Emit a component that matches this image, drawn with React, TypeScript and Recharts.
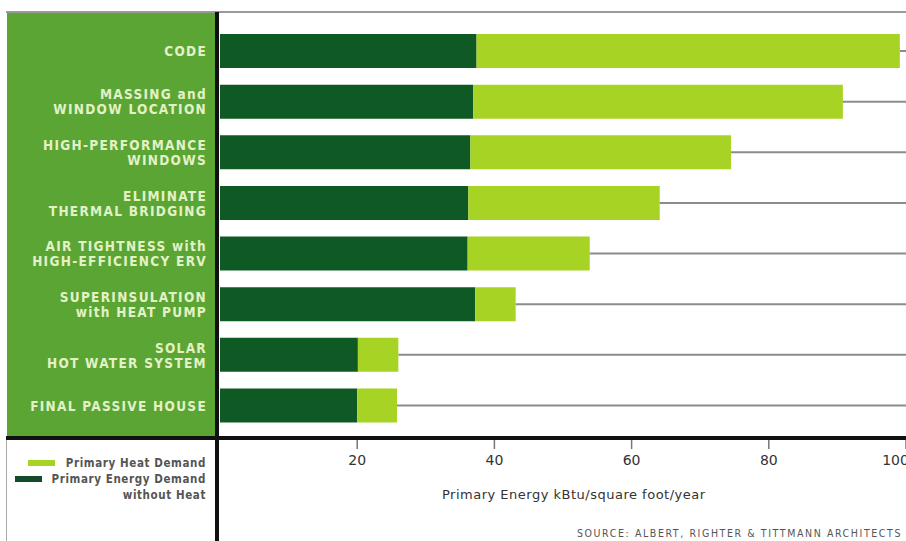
import { Bar, BarChart, XAxis, YAxis } from "recharts";

const categories = [
  "CODE",
  "MASSING and\nWINDOW LOCATION",
  "HIGH-PERFORMANCE\nWINDOWS",
  "ELIMINATE\nTHERMAL BRIDGING",
  "AIR TIGHTNESS with\nHIGH-EFFICIENCY ERV",
  "SUPERINSULATION\nwith HEAT PUMP",
  "SOLAR\nHOT WATER SYSTEM",
  "FINAL PASSIVE HOUSE",
];
const energyWithoutHeat = [37.4, 36.9, 36.5, 36.2, 36.1, 37.2, 20.1, 20.0];
const heatDemand = [61.7, 53.9, 38.0, 27.9, 17.8, 5.9, 5.9, 5.8];
const xTicks = [20, 40, 60, 80, 100];
const axisMax = 100;

const data = categories.map((name, i) => ({
  name,
  base: energyWithoutHeat[i],
  heat: heatDemand[i],
  rest: axisMax - energyWithoutHeat[i] - heatDemand[i],
}));

const DARK = "#0f5a24";
const LIGHT = "#a7d424";
const PANEL = "#5aa534";

function CategoryTick(props: any) {
  const { x, y, payload } = props;
  const lines = String(payload.value).split("\n");
  const lh = 15;
  const start = y - ((lines.length - 1) * lh) / 2;
  return (
    <text
      x={x}
      y={start}
      textAnchor="end"
      dominantBaseline="central"
      fill="#e3f2c6"
      fontFamily="'DejaVu Sans Condensed', 'DejaVu Sans', sans-serif"
      fontWeight="bold"
      fontSize={13.5}
      letterSpacing={1.3}
    >
      {lines.map((l, i) => (
        <tspan key={i} x={x} dy={i === 0 ? 0 : lh}>
          {l}
        </tspan>
      ))}
    </text>
  );
}

function LeaderLine(props: any) {
  const { x, y, width, height } = props;
  if (!width || width <= 0) return null;
  const cy = y + height / 2;
  return <line x1={x} x2={x + width} y1={cy} y2={cy} stroke="#8c8c8c" strokeWidth={2} />;
}

function LegendBox() {
  const txt = {
    fontFamily: "'DejaVu Sans Condensed', 'DejaVu Sans', sans-serif",
    fontWeight: 700,
    fontSize: 11.5,
    letterSpacing: 0.6,
    color: "#555",
    lineHeight: "16px",
  } as const;
  return (
    <div style={{ position: "absolute", left: 8, top: 455, width: 200, height: 60 }}>
      <div style={{ position: "absolute", left: 20, top: 5, width: 27, height: 6, background: LIGHT }} />
      <div style={{ position: "absolute", left: 7, top: 21, width: 27, height: 6, background: "#134a2c" }} />
      <div style={{ ...txt, position: "absolute", right: 2, top: 0, textAlign: "right", whiteSpace: "nowrap" }}>
        Primary Heat Demand
        <br />
        Primary Energy Demand
        <br />
        without Heat
      </div>
    </div>
  );
}

export default function App() {
  return (
    <div
      style={{
        position: "absolute",
        left: 0,
        top: 0,
        width: 906,
        height: 541,
        background: "#fff",
        overflow: "hidden",
        fontFamily: "'DejaVu Sans', sans-serif",
      }}
    >
      {/* top rule */}
      <div style={{ position: "absolute", left: 6, top: 11, width: 900, height: 2, background: "#9a9a9a" }} />
      {/* green label panel */}
      <div style={{ position: "absolute", left: 7, top: 13, width: 208, height: 424, background: PANEL }} />
      {/* left border of legend box */}
      <div style={{ position: "absolute", left: 6, top: 437, width: 1, height: 104, background: "#aaa" }} />

      <div style={{ position: "absolute", left: 0, top: 0 }}>
        <BarChart
          width={906}
          height={541}
          data={data}
          layout="vertical"
          margin={{ top: 14, right: 0, bottom: 0, left: 13 }}
          barSize={34}
        >
          <XAxis
            type="number"
            domain={[0, axisMax]}
            ticks={xTicks}
            height={103}
            axisLine={false}
            tickLine={{ stroke: "#777", strokeWidth: 1.5 }}
            tickSize={11}
            tickMargin={6}
            tick={{ fill: "#333", fontSize: 14, fontFamily: "'DejaVu Sans', sans-serif" }}
          />
          <YAxis
            type="category"
            dataKey="name"
            width={207}
            padding={{ top: 12, bottom: 7 }}
            axisLine={false}
            tickLine={false}
            tickSize={0}
            tickMargin={13}
            tick={<CategoryTick />}
            interval={0}
          />
          <Bar dataKey="base" stackId="a" fill={DARK} isAnimationActive={false} />
          <Bar dataKey="heat" stackId="a" fill={LIGHT} isAnimationActive={false} />
          <Bar dataKey="rest" stackId="a" shape={<LeaderLine />} isAnimationActive={false} />
        </BarChart>
      </div>

      <LegendBox />

      {/* axis rule and divider */}
      <div style={{ position: "absolute", left: 6, top: 436, width: 900, height: 4, background: "#111" }} />
      <div style={{ position: "absolute", left: 215, top: 12, width: 4, height: 529, background: "#111" }} />

      <div
        style={{
          position: "absolute",
          left: 442,
          top: 487,
          fontSize: 13,
          letterSpacing: 0.5,
          color: "#333",
          whiteSpace: "nowrap",
        }}
      >
        Primary Energy kBtu/square foot/year
      </div>
      <div
        style={{
          position: "absolute",
          right: 4,
          top: 527,
          fontFamily: "'DejaVu Sans Condensed', 'DejaVu Sans', sans-serif",
          fontSize: 10.5,
          letterSpacing: 1.6,
          color: "#555",
          whiteSpace: "nowrap",
        }}
      >
        SOURCE: ALBERT, RIGHTER &amp; TITTMANN ARCHITECTS
      </div>
    </div>
  );
}
